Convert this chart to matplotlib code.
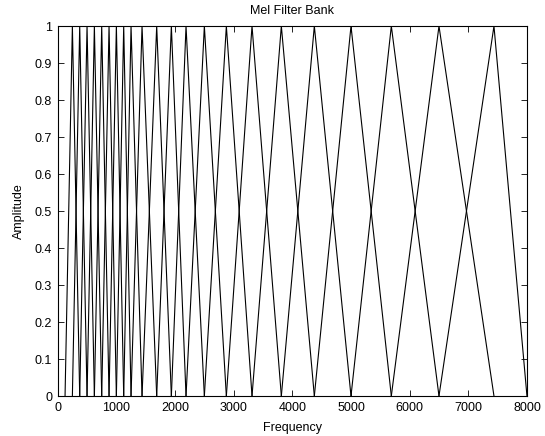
# mel filter bank, triangles drawn between neighbouring edge frequencies
import matplotlib
matplotlib.use('Agg')
from matplotlib import pyplot as plt

# edge / centre frequencies (Hz)
edges = [125, 250, 375, 500, 625, 750, 875, 1000, 1125, 1250, 1437.5, 1687.5,
         1937.5, 2187.5, 2500, 2875, 3312.5, 3812.5, 4375, 5000, 5687.5, 6500,
         7437.5, 8000]
tri_amp = [0, 1, 0]
x_ticks = [0, 1000, 2000, 3000, 4000, 5000, 6000, 7000, 8000]
y_ticks = [0, 0.1, 0.2, 0.3, 0.4, 0.5, 0.6, 0.7, 0.8, 0.9, 1]
y_labels = ['0', '0.1', '0.2', '0.3', '0.4', '0.5', '0.6', '0.7', '0.8', '0.9', '1']

plt.rcParams['font.family'] = ['Liberation Sans', 'DejaVu Sans']
plt.rcParams['font.size'] = 9

fig = plt.figure(figsize=(5.45, 4.36), dpi=100)
ax = fig.add_axes([0.1059, 0.0917, 0.861, 0.8486])

for i in range(len(edges) - 2):
    ax.plot(edges[i:i + 3], tri_amp, '-', color='black', linewidth=0.8)

ax.set_xlim(0, 8000)
ax.set_ylim(0, 1)
ax.set_xticks(x_ticks)
ax.set_yticks(y_ticks)
ax.set_yticklabels(y_labels)
ax.tick_params(direction='in', top=True, right=True, length=4, width=0.6, pad=4)
for s in ax.spines.values():
    s.set_linewidth(0.8)

ax.set_title('Mel Filter Bank', fontsize=9, pad=9)
ax.set_xlabel('Frequency', labelpad=6)
ax.set_ylabel('Amplitude', labelpad=7)

fig.savefig('out.png', dpi=100)
